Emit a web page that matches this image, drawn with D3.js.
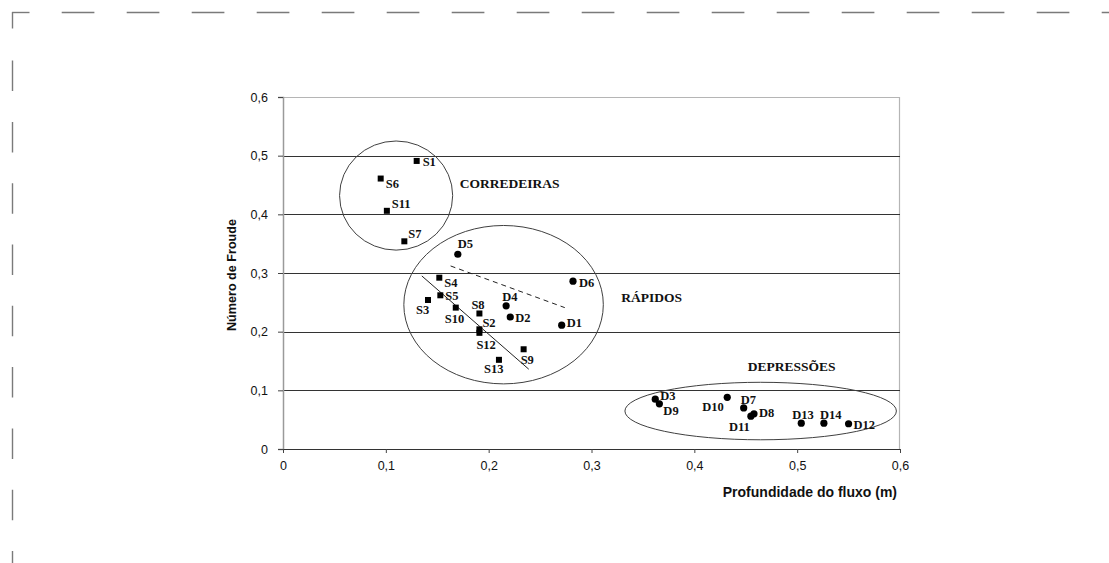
<!DOCTYPE html>
<html>
<head>
<meta charset="utf-8">
<script src="https://cdn.jsdelivr.net/npm/d3@7"></script>
<style>
  html, body { margin: 0; padding: 0; background: #fff; }
  svg { display: block; }
</style>
</head>
<body>
<svg id="chart" width="1109" height="563"></svg>
<script>
// Axis ticks
const xTicks = [0, 0.1, 0.2, 0.3, 0.4, 0.5, 0.6];
const yTicks = [0, 0.1, 0.2, 0.3, 0.4, 0.5, 0.6];

// Corredeiras / rápidos sections (squares)
const sNames  = ["S1", "S2", "S3", "S4", "S5", "S6", "S7", "S8", "S9", "S10", "S11", "S12", "S13"];
const sDepth  = [0.130, 0.191, 0.141, 0.152, 0.153, 0.095, 0.118, 0.191, 0.234, 0.168, 0.101, 0.191, 0.210];
const sFroude = [0.491, 0.204, 0.254, 0.292, 0.262, 0.461, 0.354, 0.231, 0.170, 0.241, 0.406, 0.198, 0.152];

// Depressões / rápidos sections (circles)
const dNames  = ["D1", "D2", "D3", "D4", "D5", "D6", "D7", "D8", "D9", "D10", "D11", "D12", "D13", "D14"];
const dDepth  = [0.271, 0.221, 0.362, 0.217, 0.170, 0.282, 0.448, 0.458, 0.366, 0.432, 0.455, 0.550, 0.504, 0.526];
const dFroude = [0.211, 0.225, 0.085, 0.244, 0.332, 0.286, 0.070, 0.060, 0.077, 0.088, 0.056, 0.043, 0.044, 0.044];

// Trend segments through the S and D points of the rápidos group
const trendS = [[0.135, 0.295], [0.239, 0.136]];
const trendD = [[0.163, 0.312], [0.274, 0.241]];

// Grouping ellipses: name, centre (depth, Froude), half-widths (depth, Froude)
const groupNames   = ["CORREDEIRAS", "RÁPIDOS", "DEPRESSÕES"];
const groupCenters = [[0.110, 0.432], [0.2145, 0.246], [0.4645, 0.0647]];
const groupRadii   = [[0.055, 0.093], [0.097, 0.135], [0.132, 0.049]];
const groupLabelAt = [[0.172, 0.445], [0.329, 0.250], [0.452, 0.133]];

// Point-label placement (pixel offsets from the marker)
const labelOffset = {
  S1: [6, 5], S2: [3, -2], S3: [-12, 14], S4: [5, 9], S5: [5, 5], S6: [5, 9],
  S7: [4, -3], S8: [-8, -4], S9: [-3, 15], S10: [-11, 15], S11: [5, -3],
  S12: [-3, 16], S13: [-15, 13],
  D1: [5, 2], D2: [5, 5], D3: [5, 1], D4: [-4, -5], D5: [0, -6], D6: [6, 6],
  D7: [-3, -4], D8: [5, 3], D9: [4, 11], D10: [-25, 14], D11: [-22, 15],
  D12: [5, 5], D13: [-9, -4], D14: [-4, -4]
};

const svg = d3.select("#chart");
const W = 1109, H = 563;

// Dashed page frame: a solid corner, then dashes along the top and left edges
const frame = svg.append("g").attr("stroke", "#7a7a7a").attr("stroke-width", 1.4).attr("fill", "none");
frame.append("line").attr("x1", 12).attr("x2", 29.5).attr("y1", 12.5).attr("y2", 12.5);
frame.append("line").attr("x1", 12.5).attr("x2", 12.5).attr("y1", 12).attr("y2", 28.5);
frame.append("line").attr("x1", 61.7).attr("x2", W).attr("y1", 12.5).attr("y2", 12.5)
  .attr("stroke-dasharray", "32.7 32.3");
frame.append("line").attr("x1", 12.5).attr("x2", 12.5).attr("y1", 60.6).attr("y2", H)
  .attr("stroke-dasharray", "30.5 30.8");

const x = d3.scaleLinear().domain([0, 0.6]).range([283, 900]);
const y = d3.scaleLinear().domain([0, 0.6]).range([449, 97]);
const fmt = d => d3.format(".1f")(d).replace(".", ",").replace(/^0,0$/, "0");
const sans = "Liberation Sans, Arial, sans-serif";
const serif = "Liberation Serif, Times New Roman, serif";

// Plot-area border (top and right)
svg.append("path")
  .attr("d", `M${x(0)},${y(0.6) + 0.5}H${x(0.6) - 0.5}V${y(0)}`)
  .attr("fill", "none").attr("stroke", "#b5b5b5").attr("stroke-width", 1.2);

// Horizontal gridlines
svg.append("g").selectAll("line")
  .data(yTicks.filter(t => t > 0 && t < 0.6))
  .join("line")
  .attr("x1", x(0)).attr("x2", x(0.6))
  .attr("y1", d => Math.round(y(d)) + 0.5).attr("y2", d => Math.round(y(d)) + 0.5)
  .attr("stroke", "#333").attr("stroke-width", 1);

// Y axis
const yAxis = svg.append("g").attr("transform", `translate(${x(0)},0)`)
  .call(d3.axisLeft(y).tickValues(yTicks).tickFormat(fmt).tickSize(5).tickPadding(10));
yAxis.select(".domain").attr("stroke", "#9a9a9a").attr("stroke-width", 1.5);
yAxis.selectAll(".tick line").attr("stroke", "#444");
yAxis.selectAll("text").attr("font-family", sans).attr("font-size", 12.5).attr("fill", "#111");

// X axis
const xAxis = svg.append("g").attr("transform", `translate(0,${y(0)})`)
  .call(d3.axisBottom(x).tickValues(xTicks).tickFormat(fmt).tickSize(4).tickPadding(8));
xAxis.select(".domain").attr("stroke", "#333").attr("stroke-width", 1);
xAxis.selectAll(".tick line").attr("stroke", "#444");
xAxis.selectAll("text").attr("font-family", sans).attr("font-size", 12.5).attr("fill", "#111");

// Axis titles
svg.append("text")
  .attr("transform", `translate(236,${(y(0) + y(0.6)) / 2 + 2}) rotate(-90)`)
  .attr("text-anchor", "middle")
  .attr("font-family", sans).attr("font-weight", "bold")
  .attr("font-size", 12.6).attr("fill", "#111")
  .text("Número de Froude");
svg.append("text")
  .attr("x", 897).attr("y", 497).attr("text-anchor", "end")
  .attr("font-family", sans).attr("font-weight", "bold")
  .attr("font-size", 14).attr("fill", "#111")
  .text("Profundidade do fluxo (m)");

// Group ellipses
svg.append("g").selectAll("ellipse")
  .data(groupNames.map((n, i) => i))
  .join("ellipse")
  .attr("cx", i => x(groupCenters[i][0]))
  .attr("cy", i => y(groupCenters[i][1]))
  .attr("rx", i => x(groupRadii[i][0]) - x(0))
  .attr("ry", i => y(0) - y(groupRadii[i][1]))
  .attr("fill", "none").attr("stroke", "#404040").attr("stroke-width", 1);

// Group names
svg.append("g").selectAll("text")
  .data(groupNames.map((n, i) => i))
  .join("text")
  .attr("x", i => x(groupLabelAt[i][0]))
  .attr("y", i => y(groupLabelAt[i][1]))
  .attr("font-family", serif).attr("font-weight", "bold")
  .attr("font-size", 13.5).attr("fill", "#111")
  .text(i => groupNames[i]);

// Trend lines
const line = d3.line().x(d => x(d[0])).y(d => y(d[1]));
svg.append("path").attr("d", line(trendS))
  .attr("fill", "none").attr("stroke", "#222").attr("stroke-width", 1);
svg.append("path").attr("d", line(trendD))
  .attr("fill", "none").attr("stroke", "#222").attr("stroke-width", 1)
  .attr("stroke-dasharray", "5 4");

// Square markers
const sIdx = sNames.map((n, i) => i);
svg.append("g").selectAll("rect")
  .data(sIdx).join("rect")
  .attr("x", i => x(sDepth[i]) - 3).attr("y", i => y(sFroude[i]) - 3)
  .attr("width", 6).attr("height", 6).attr("fill", "#000");

// Circle markers
const dIdx = dNames.map((n, i) => i);
svg.append("g").selectAll("circle")
  .data(dIdx).join("circle")
  .attr("cx", i => x(dDepth[i])).attr("cy", i => y(dFroude[i]))
  .attr("r", 3.6).attr("fill", "#000");

// Point labels
const labels = sIdx.map(i => ({ name: sNames[i], px: x(sDepth[i]), py: y(sFroude[i]) }))
  .concat(dIdx.map(i => ({ name: dNames[i], px: x(dDepth[i]), py: y(dFroude[i]) })));
svg.append("g").selectAll("text")
  .data(labels).join("text")
  .attr("x", d => d.px + labelOffset[d.name][0])
  .attr("y", d => d.py + labelOffset[d.name][1])
  .attr("font-family", serif).attr("font-weight", "bold")
  .attr("font-size", 12.5).attr("fill", "#111")
  .text(d => d.name);
</script>
</body>
</html>
